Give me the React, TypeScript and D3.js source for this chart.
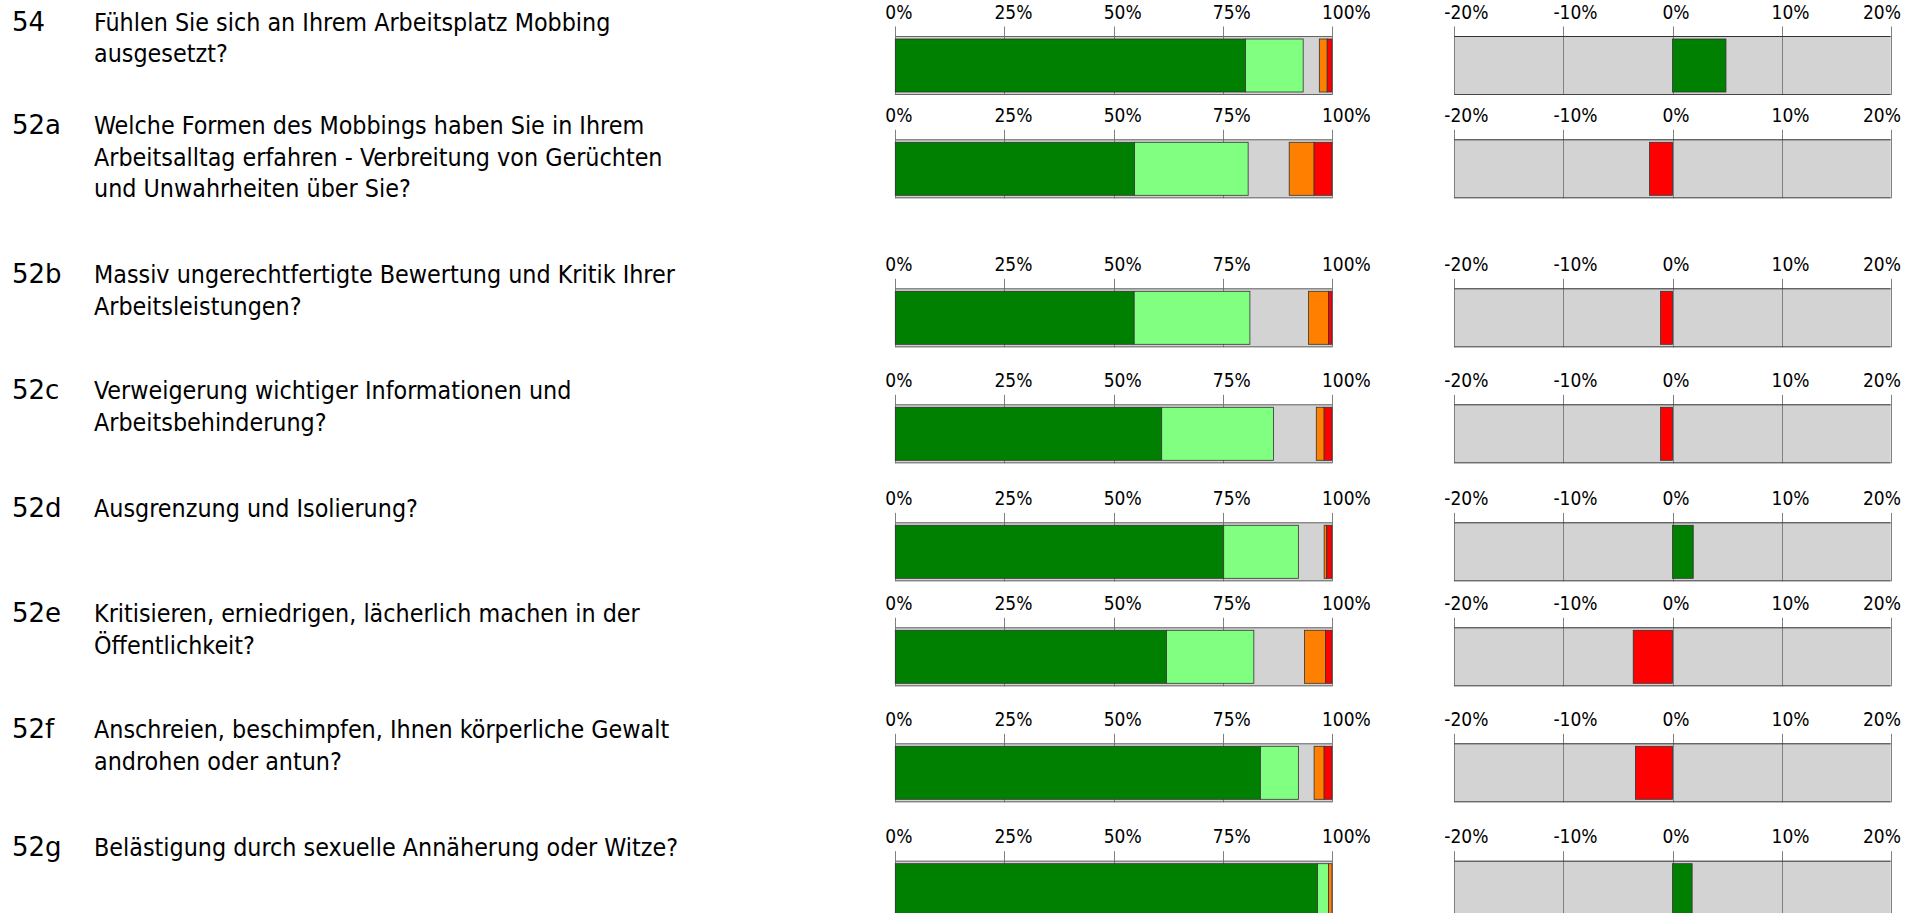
import React, { useEffect } from "react";
import * as d3 from "d3";

// ---------- data ----------
const ids = ["54", "52a", "52b", "52c", "52d", "52e", "52f", "52g"];
const questions: string[][] = [
  ["Fühlen Sie sich an Ihrem Arbeitsplatz Mobbing", "ausgesetzt?"],
  ["Welche Formen des Mobbings haben Sie in Ihrem", "Arbeitsalltag erfahren - Verbreitung von Gerüchten", "und Unwahrheiten über Sie?"],
  ["Massiv ungerechtfertigte Bewertung und Kritik Ihrer", "Arbeitsleistungen?"],
  ["Verweigerung wichtiger Informationen und", "Arbeitsbehinderung?"],
  ["Ausgrenzung und Isolierung?"],
  ["Kritisieren, erniedrigen, lächerlich machen in der", "Öffentlichkeit?"],
  ["Anschreien, beschimpfen, Ihnen körperliche Gewalt", "androhen oder antun?"],
  ["Belästigung durch sexuelle Annäherung oder Witze?"],
];
// stacked shares (%) per answer category
const never = [80.2, 54.8, 54.7, 61.0, 75.2, 62.1, 83.6, 96.7];
const rarely = [13.2, 26.0, 26.5, 25.6, 17.1, 20.0, 8.7, 2.5];
const noAnswer = [3.7, 9.4, 13.4, 9.8, 5.9, 11.6, 3.6, 0.0];
const often = [1.8, 5.7, 4.6, 1.8, 0.6, 4.8, 2.3, 0.8];
const always = [1.1, 4.1, 0.8, 1.8, 1.2, 1.5, 1.8, 0.0];
// deviation (%)
const deviation = [4.9, -2.1, -1.1, -1.1, 1.9, -3.6, -3.4, 1.8];
const leftTicks = [0, 25, 50, 75, 100];
const rightTicks = [-20, -10, 0, 10, 20];

const seriesKeys = ["never", "rarely", "noAnswer", "often", "always"];
const seriesColors: Record<string, string> = {
  never: "#008000",
  rarely: "#80FF80",
  noAnswer: "none",
  often: "#FF8000",
  always: "#FF0000",
};

// ---------- layout ----------
const W = 1921;
const H = 913;
const rowTops = [36, 139.3, 288.3, 404.3, 522.3, 627.3, 743.3, 860.7];
const frameH = 59;
const inset = 3;
const lineGap = 31.3;
const condFont = "'DejaVu Sans Condensed', 'DejaVu Sans', sans-serif";

const xL = d3.scaleLinear().domain([0, 100]).range([895.3, 1332]);
const xR = d3.scaleLinear().domain([-20, 20]).range([1454.3, 1890.7]);

const table = ids.map((id, i) => ({
  id,
  never: never[i],
  rarely: rarely[i],
  noAnswer: noAnswer[i],
  often: often[i],
  always: always[i],
}));
const stacked = d3.stack<any>().keys(seriesKeys)(table);

function Axis({ scale, ticks, top, fmt }: any) {
  const [r0, r1] = scale.range();
  const bottom = top + frameH;
  return (
    <g>
      <rect x={r0} y={top} width={r1 - r0} height={frameH} fill="#D3D3D3" />
      {ticks.map((t: number) => {
        const x = Math.round(scale(t)) + 0.5;
        const label = fmt(t);
        const approxW = label.length * 11 + 5;
        let lx = scale(t) - 10;
        if (lx + approxW > 1901) lx = 1901 - approxW;
        return (
          <g key={t}>
            <line x1={x} x2={x} y1={top - 9.5} y2={bottom} stroke="#808080" strokeWidth={1} />
            <text x={lx} y={top - 17.5} fontSize={19} fontFamily={condFont} fill="#000">
              {label}
            </text>
          </g>
        );
      })}
    </g>
  );
}

export default function App() {
  useEffect(() => {
    document.body.style.margin = "0";
    document.body.style.overflow = "hidden";
  }, []);
  const pct = (v: number) => `${v}%`;
  return (
    <div style={{ position: "absolute", left: 0, top: 0 }}>
      <svg width={W} height={H} style={{ display: "block", background: "#fff" }}>
        {ids.map((id, i) => {
          const top = rowTops[i];
          const bottom = top + frameH;
          const textBase = top - 5;
          return (
            <g key={id}>
              <text x={12} y={textBase} fontSize={26} fontFamily="'DejaVu Sans', sans-serif" fill="#000">
                {id}
              </text>
              {questions[i].map((ln, k) => (
                <text key={k} x={94} y={textBase + k * lineGap} fontSize={24.8} fontFamily={condFont} fill="#000">
                  {ln}
                </text>
              ))}

              {/* left stacked chart */}
              <Axis scale={xL} ticks={leftTicks} top={top} fmt={pct} />
              {stacked.map((s) => {
                const d = s[i];
                const w = xL(d[1]) - xL(d[0]);
                if (w <= 0) return null;
                const fill = seriesColors[s.key];
                return (
                  <rect
                    key={s.key}
                    x={xL(d[0])}
                    y={top + inset}
                    width={w}
                    height={frameH - 2 * inset}
                    fill={fill}
                    stroke={fill === "none" ? "none" : "#333"}
                    strokeWidth={0.8}
                  />
                );
              })}
              <line x1={xL(0)} x2={xL(100)} y1={top + 0.5} y2={top + 0.5} stroke="#666" />
              <line x1={xL(0)} x2={xL(100)} y1={bottom - 0.5} y2={bottom - 0.5} stroke="#666" />

              {/* right deviation chart */}
              <Axis scale={xR} ticks={rightTicks} top={top} fmt={pct} />
              <rect
                x={Math.min(xR(0), xR(deviation[i]))}
                y={top + inset}
                width={Math.abs(xR(deviation[i]) - xR(0))}
                height={frameH - 2 * inset}
                fill={deviation[i] >= 0 ? "#008000" : "#FF0000"}
                stroke="#333"
                strokeWidth={0.8}
              />
              <line x1={xR(-20)} x2={xR(20)} y1={top + 0.5} y2={top + 0.5} stroke="#333" />
              <line x1={xR(-20)} x2={xR(20)} y1={bottom - 0.5} y2={bottom - 0.5} stroke="#444" />
            </g>
          );
        })}
      </svg>
    </div>
  );
}
